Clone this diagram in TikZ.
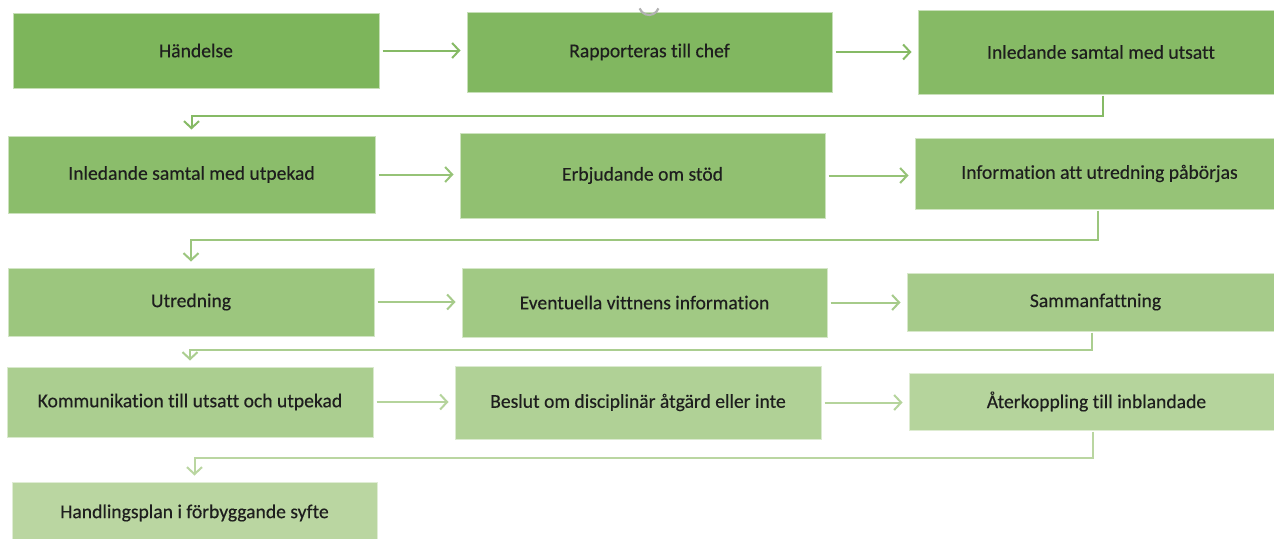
\documentclass[tikz,border=0pt]{standalone}
\usepackage{fontspec}
\setmainfont{Carlito}[Ligatures={NoCommon,NoContextual},FakeBold=0.35]
\usetikzlibrary{arrows.meta,calc}
\definecolor{cA}{HTML}{7DB55B}
\definecolor{cB}{HTML}{81B760}
\definecolor{cC}{HTML}{86BA65}
\definecolor{cD}{HTML}{8BBD6B}
\definecolor{cE}{HTML}{91C071}
\definecolor{cF}{HTML}{96C377}
\definecolor{cG}{HTML}{9CC67E}
\definecolor{cH}{HTML}{A1C984}
\definecolor{cI}{HTML}{A6CB8A}
\definecolor{cJ}{HTML}{ABCE90}
\definecolor{cK}{HTML}{B0D196}
\definecolor{cL}{HTML}{B5D49C}
\definecolor{cM}{HTML}{BAD6A1}
\definecolor{txt}{HTML}{1E1E1E}
\tikzset{
  box/.style={rectangle, inner sep=0pt, draw=white!55!#1, fill=#1, line width=1pt,
    text=txt, font=\fontsize{19.6}{22}\selectfont},
  arr/.style={draw=#1, line width=2pt, shorten <=3pt, shorten >=6pt,
    -{Straight Barb[length=7pt,width=15pt]}},
  conn/.style={draw=#1, line width=2pt, shorten >=6pt,
    -{Straight Barb[length=7pt,width=15pt]}},
}
\begin{document}
\begin{tikzpicture}[x=1pt,y=-1pt]
\clip (0,0) rectangle (1274,538);
\fill[white] (0,0) rectangle (1274,538);
% row 1
\node[box=cA, minimum width=366pt, minimum height=75pt] (A) at (196,50.5) {Händelse};
\node[box=cB, minimum width=365pt, minimum height=80pt] (B) at (649.5,52) {Rapporteras till chef};
\node[box=cC, minimum width=366pt, minimum height=84pt] (C) at (1101,52) {Inledande samtal med utsatt};
% row 2
\node[box=cD, minimum width=367pt, minimum height=77pt] (D) at (191.5,174.5) {Inledande samtal med utpekad};
\node[box=cE, minimum width=365pt, minimum height=85pt] (E) at (642.5,175.5) {Erbjudande om stöd};
\node[box=cF, minimum width=369pt, minimum height=71pt] (F) at (1099.5,173.5) {Information att utredning påbörjas};
% row 3
\node[box=cG, minimum width=366pt, minimum height=68pt] (G) at (191,302) {Utredning};
\node[box=cH, minimum width=365pt, minimum height=69pt] (H) at (644.5,302.5) {Eventuella vittnens information};
\node[box=cI, minimum width=377pt, minimum height=58pt] (I) at (1095.5,302) {Sammanfattning};
% row 4
\node[box=cJ, minimum width=366pt, minimum height=70pt] (J) at (190,402) {Kommunikation till utsatt och utpekad};
\node[box=cK, minimum width=366pt, minimum height=73pt] (K) at (638,402.5) {Beslut om disciplinär åtgärd eller inte};
\node[box=cL, minimum width=375pt, minimum height=57pt] (L) at (1096.5,401.5) {Återkoppling till inblandade};
% row 5
\node[box=cM, minimum width=365pt, minimum height=62pt] (M) at (194.5,513) {Handlingsplan i förbyggande syfte};

% horizontal arrows
\draw[arr=cC] (A.east) -- (A.east -| B.west);
\draw[arr=cC] (B.east) -- (B.east -| C.west);
\draw[arr=cF] (D.east) -- (D.east -| E.west);
\draw[arr=cF] (E.east) -- (E.east -| F.west);
\draw[arr=cI] (G.east) -- (G.east -| H.west);
\draw[arr=cI] (H.east) -- (H.east -| I.west);
\draw[arr=cL] (J.east) -- (J.east -| K.west);
\draw[arr=cL] (K.east) -- (K.east -| L.west);

% elbow connectors
\draw[conn=cC] ($(C.south)+(2,1)$) -- ++(0,20) -| (D.north);
\draw[conn=cG] ($(F.south)+(-1.5,1)$) -- ++(0,29) -| (G.north);
\draw[conn=cJ] ($(I.south)+(-3.5,1)$) -- ++(0,17) -| (J.north);
\draw[conn=cM] ($(L.south)+(-3.5,1)$) -- ++(0,26) -| (M.north);

% small handle artifact at top
\draw[gray!60, line width=2.2pt] (658.4,8.4) arc[start angle=20, end angle=160, radius=10];
\end{tikzpicture}
\end{document}
